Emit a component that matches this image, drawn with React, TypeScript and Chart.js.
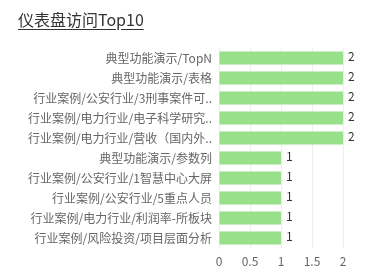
import React, { useEffect, useRef } from "react";
import { Chart, registerables } from "chart.js";

Chart.register(...registerables);

const titleText = "仪表盘访问Top10";
const categories = [
  "典型功能演示/TopN",
  "典型功能演示/表格",
  "行业案例/公安行业/3刑事案件可..",
  "行业案例/电力行业/电子科学研究..",
  "行业案例/电力行业/营收（国内外..",
  "典型功能演示/参数列",
  "行业案例/公安行业/1智慧中心大屏",
  "行业案例/公安行业/5重点人员",
  "行业案例/电力行业/利润率-所板块",
  "行业案例/风险投资/项目层面分析",
];
const visits = [2, 2, 2, 2, 2, 1, 1, 1, 1, 1];
const xTicks = [0, 0.5, 1, 1.5, 2];

const FONT = "'Noto Sans CJK SC', 'Noto Sans', sans-serif";

const valueLabels = {
  id: "valueLabels",
  afterDatasetsDraw(chart: any) {
    const ctx = chart.ctx;
    const meta = chart.getDatasetMeta(0);
    ctx.save();
    ctx.font = `12px ${FONT}`;
    ctx.fillStyle = "#333";
    ctx.textAlign = "left";
    ctx.textBaseline = "middle";
    meta.data.forEach((bar: any, i: number) => {
      ctx.fillText(String(visits[i]), bar.x + 5, bar.y - 2);
    });
    ctx.restore();
  },
};

export default function App() {
  const ref = useRef<HTMLCanvasElement | null>(null);
  useEffect(() => {
    document.body.style.margin = "0";
    const chart = new Chart(ref.current!, {
      type: "bar",
      data: {
        labels: categories,
        datasets: [
          {
            data: visits,
            backgroundColor: "#98e08a",
            barPercentage: 0.65,
            categoryPercentage: 1,
          },
        ],
      },
      plugins: [valueLabels],
      options: {
        indexAxis: "y",
        animation: false,
        responsive: false,
        maintainAspectRatio: false,
        layout: { padding: { top: 48, right: 40, left: 0, bottom: 0 } },
        plugins: { legend: { display: false }, tooltip: { enabled: false } },
        scales: {
          x: {
            min: 0,
            max: 2,
            afterBuildTicks: (scale: any) => {
              scale.ticks = xTicks.map((v) => ({ value: v }));
            },
            afterFit: (scale: any) => {
              scale.height = 28;
            },
            grid: { color: "#eeeeee", drawTicks: false },
            border: { display: false },
            ticks: {
              color: "#666",
              font: { size: 12, family: FONT },
              padding: 6,
              callback: (v: any) => String(v),
            },
          },
          y: {
            afterFit: (scale: any) => {
              scale.width = 219;
            },
            grid: { display: false, drawTicks: false },
            border: { display: true, color: "#eeeeee" },
            ticks: {
              color: "#666",
              font: { size: 12, family: FONT },
              padding: 7,
              autoSkip: false,
            },
          },
        },
      },
    });
    return () => chart.destroy();
  }, []);
  return (
    <div style={{ position: "relative", width: 383, height: 276 }}>
      <div
        style={{
          position: "absolute",
          left: 18,
          top: 8,
          fontSize: 16,
          fontFamily: FONT,
          color: "#333",
          textDecoration: "underline",
          textUnderlineOffset: 3,
          lineHeight: "22px",
          whiteSpace: "nowrap",
        }}
      >
        {titleText}
      </div>
      <canvas ref={ref} width={383} height={276} style={{ display: "block" }} />
    </div>
  );
}
